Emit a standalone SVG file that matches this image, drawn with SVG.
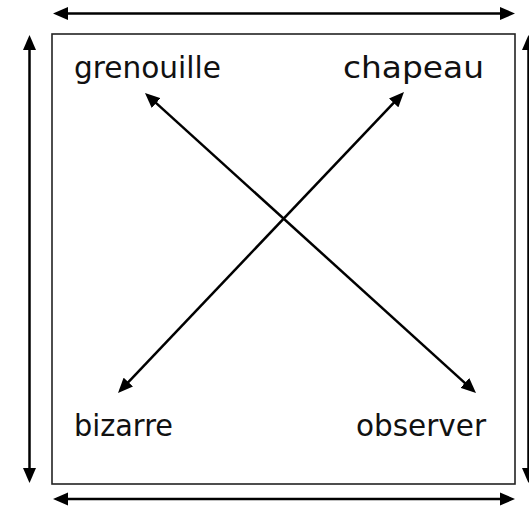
<svg xmlns="http://www.w3.org/2000/svg" width="529" height="508" viewBox="0 0 529 508">
<style>
.lbl{font-family:"DejaVu Sans","Liberation Sans",sans-serif;font-size:30px;fill:#111}
.arr{stroke:#000;stroke-width:2.5;fill:none;marker-start:url(#ah);marker-end:url(#ah)}
</style>
<defs>
<marker id="ah" markerUnits="userSpaceOnUse" markerWidth="15" markerHeight="14" refX="11" refY="6.5" orient="auto-start-reverse" viewBox="0 0 15 13">
<path d="M0,0 L15,6.5 L0,13 z" fill="#000"/>
</marker>
</defs>
<rect width="529" height="508" fill="#fff"/>
<g id="frame">
<rect x="52" y="34" width="463" height="450" fill="none" stroke="#222" stroke-width="1.6"/>
</g>
<g id="connectors">
<line class="arr" x1="57" y1="13.5" x2="511" y2="13.5"/>
<line class="arr" x1="57" y1="499" x2="511" y2="499"/>
<line class="arr" x1="29.5" y1="39" x2="29.5" y2="479"/>
<line class="arr" x1="528.5" y1="39" x2="528.5" y2="479"/>
<line class="arr" x1="147.96" y1="95.69" x2="473.04" y2="390.31"/>
<line class="arr" x1="401.24" y1="94.9" x2="120.76" y2="390.1"/>
</g>
<g id="grenouille"><text class="lbl" x="74" y="78" textLength="147" lengthAdjust="spacingAndGlyphs">grenouille</text></g>
<g id="chapeau"><text class="lbl" x="343" y="78" textLength="141" lengthAdjust="spacingAndGlyphs">chapeau</text></g>
<g id="bizarre"><text class="lbl" x="74" y="436" textLength="99" lengthAdjust="spacingAndGlyphs">bizarre</text></g>
<g id="observer"><text class="lbl" x="356" y="436" textLength="130" lengthAdjust="spacingAndGlyphs">observer</text></g>
</svg>
